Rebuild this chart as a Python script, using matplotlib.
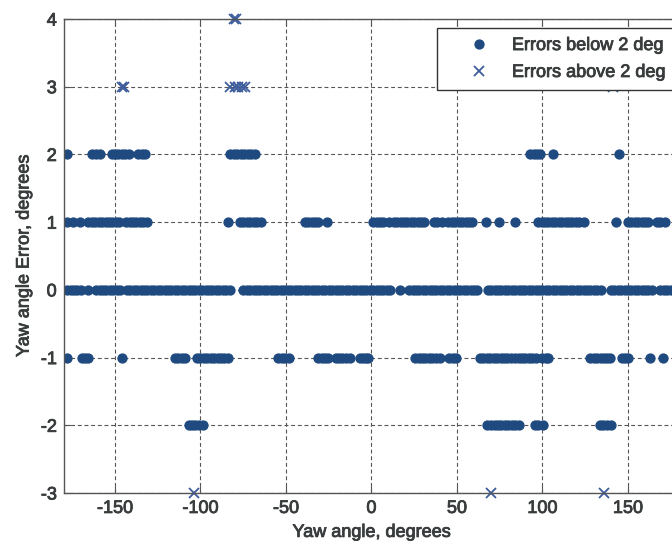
import numpy as np
import matplotlib
matplotlib.use('Agg')
from matplotlib import pyplot as plt
import matplotlib.patheffects as pe

# yaw angle (deg) of every sample, grouped by its integer yaw error
yaw_err_0 = [-178, -176, -174, -172, -170, -165.5, -161, -159, -157, -155, -153, -151, -149,
             -147, -143, -141, -139, -137, -135, -133, -131, -129, -127, -125, -123, -121,
             -119, -117, -115, -113, -111, -109, -107, -105, -103, -101, -99, -97, -95, -93,
             -91, -89, -87, -85, -83,
             -75, -73, -71, -69, -67, -65, -63, -61, -59, -57, -55, -53, -51, -49, -47, -45,
             -43, -41, -39, -37, -35, -33, -31, -29, -27, -25, -23, -21, -19, -17, -15, -13,
             -11, -9, -7, -5, -3, -1, 1, 3, 5, 7, 9, 11, 16.5,
             22, 24, 26, 28, 30, 32, 34, 36, 38, 40, 42, 44, 46, 48, 50, 52, 54, 56, 58, 60, 62,
             68, 70, 72, 74, 76, 78, 80, 82, 84, 86, 88, 90, 92, 94, 96, 98, 100, 102, 104,
             106, 108, 110, 112, 114, 116, 118, 120, 122, 124, 126, 128, 130, 132, 134,
             140, 142, 144, 146, 148, 150, 152, 154, 156, 158, 160, 162, 164,
             169, 171, 173, 175, 177, 179]
yaw_err_1 = [-178, -174.5, -170.5, -165.5, -163.5, -161.5, -159.5, -157.5, -155.5, -153.5,
             -151.5, -149.5, -147.5, -143.5, -141.5, -139.5, -137.5, -135.5, -133.5, -131,
             -84, -77, -75, -73, -71, -69, -67, -64.5, -39, -37, -35, -33, -31, -26,
             1, 3, 5, 7, 10.5, 13, 15, 17, 19, 21, 23, 25, 27, 29, 31, 36.5, 38.5, 41,
             45, 47, 49, 51, 53, 55, 57, 58.5, 67, 74.5, 84,
             97.5, 99.5, 101.5, 103.5, 105.5, 107.5, 109.5, 111.5, 113.5, 115.5, 117.5,
             119.5, 121.5, 124, 143, 150, 152, 154, 156, 158, 160, 162, 167, 169, 171.5]
yaw_err_2 = [-178, -163.5, -161, -159, -152, -150, -148, -146, -144, -142, -136.5, -134.5,
             -132.5, -82.5, -80.5, -78.5, -76.5, -74.5, -72.5, -70.5, -68,
             93, 95, 97, 98.5, 106, 144.5]
yaw_err_m1 = [-178, -169.5, -167.5, -166, -146, -115, -113, -111, -109,
              -102, -100, -98, -96, -94, -92, -90, -88, -86, -84,
              -54.5, -52.5, -50.5, -48.5, -31, -29, -27, -25.5, -21, -19, -17, -15, -12.5,
              -7, -5, -3, -2, 25.5, 27.5, 29.5, 31.5, 33.5, 35.5, 37.5, 40, 45.5, 47.5, 49.5,
              63.5, 65.5, 67.5, 69.5, 71.5, 73.5, 75.5, 77.5, 79.5, 81.5, 84, 86, 88, 90,
              92, 94, 96.5, 100, 102, 103.5, 128, 130, 132, 134, 136, 138, 139.5,
              146.5, 148.5, 150, 163, 170.5]
yaw_err_m2 = [-107, -105, -103, -101, -98.5, 67.5, 70, 72, 74, 76, 78, 80, 82, 84, 86,
              95.5, 97.5, 100.5, 133.5, 135.5, 137.5, 140]

# samples with |error| > 2 deg
big_yaw = [-80.5, -79.5, -146, -144.5, -82.5, -80, -78, -76, -74, 141, -104, 70, 136]
big_err = [4, 4, 3, 3, 3, 3, 3, 3, 3, 3, -3, -3, -3]

xticks = [-150, -100, -50, 0, 50, 100, 150]
yticks = [-3, -2, -1, 0, 1, 2, 3, 4]

small_yaw = yaw_err_2 + yaw_err_1 + yaw_err_0 + yaw_err_m1 + yaw_err_m2
small_err = ([2] * len(yaw_err_2) + [1] * len(yaw_err_1) + [0] * len(yaw_err_0)
             + [-1] * len(yaw_err_m1) + [-2] * len(yaw_err_m2))

txt = '#383c3c'
plt.rcParams['font.family'] = ['Liberation Sans', 'DejaVu Sans']
plt.rcParams['text.color'] = txt
plt.rcParams['axes.unicode_minus'] = False
# scanned print looks heavy, thicken the glyphs a little
heavy = [pe.withStroke(linewidth=0.6, foreground=txt)]

fig = plt.figure(figsize=(6.72, 5.42), dpi=100)
ax = fig.add_axes([0.0948, 0.0904, 0.916, 0.8745])

ax.plot(small_yaw, small_err, 'o', color='#1f4a80', ms=6.4, mec='#1f4a80',
        label='Errors below 2 deg')
ax.plot(big_yaw, big_err, 'x', color='#3d5c9c', ms=7, mew=1.3, clip_on=False,
        label='Errors above 2 deg')

ax.set_xlim(-180, 180)
ax.set_ylim(-3, 4)
ax.set_xticks(xticks)
ax.set_yticks(yticks)
ax.grid(True, color='#555555', linestyle=(0, (3.5, 2.5)), linewidth=0.8)
ax.set_axisbelow(True)
ax.tick_params(direction='in', length=5, top=True, right=True, colors='#555555',
               labelcolor=txt, labelsize=13, pad=5)
for lab in ax.get_xticklabels() + ax.get_yticklabels():
    lab.set_path_effects(heavy)
for s in ax.spines.values():
    s.set_color('#555555')
    s.set_linewidth(1.0)

ax.set_xlabel('Yaw angle, degrees', fontsize=13, color=txt, labelpad=5,
              path_effects=heavy)
ax.set_ylabel('Yaw angle Error, degrees', fontsize=13, color=txt, labelpad=6,
              path_effects=heavy)

leg = fig.legend(loc='upper left', bbox_to_anchor=(437 / 672, 1 - 28 / 542),
                 borderaxespad=0, fontsize=13, fancybox=False, framealpha=1,
                 edgecolor='#333333', handlelength=3.6, handletextpad=0.05,
                 borderpad=0.5, labelspacing=0.55)
leg.get_frame().set_linewidth(1.0)
for t in leg.get_texts():
    t.set_path_effects(heavy)

fig.savefig('out.png', dpi=100)
